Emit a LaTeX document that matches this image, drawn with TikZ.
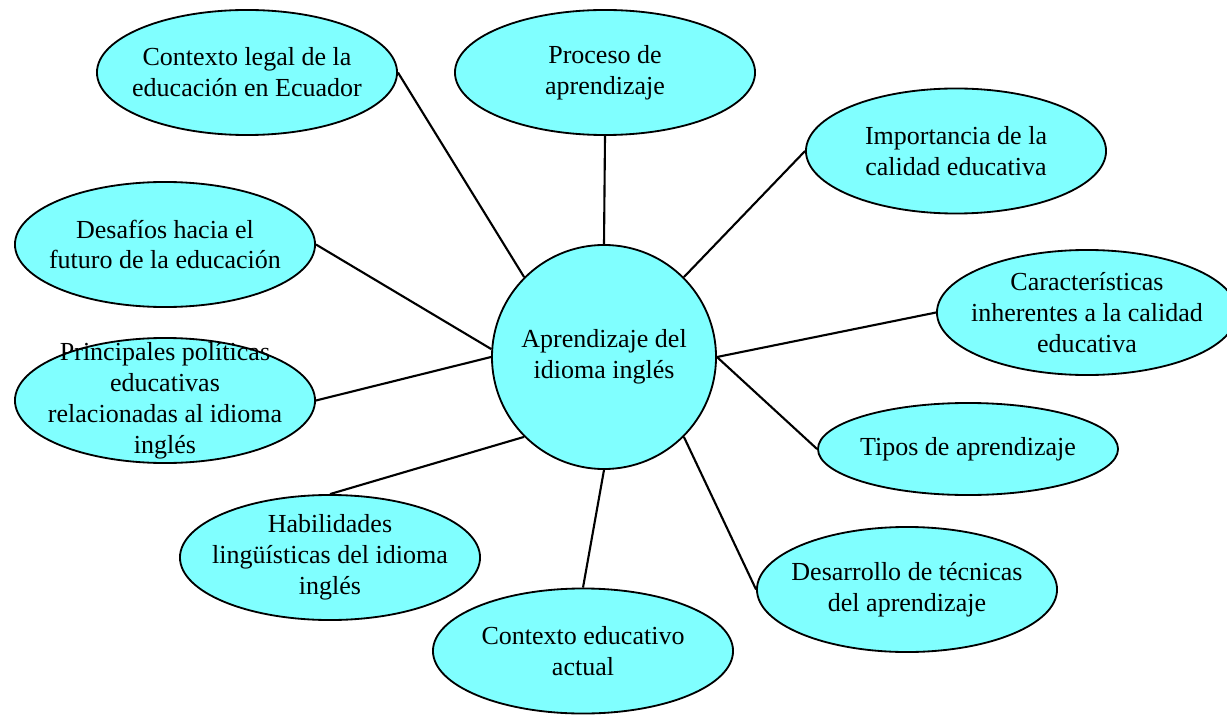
\documentclass[tikz,border=0pt]{standalone}
\usepackage{fontspec}
\setmainfont{Liberation Serif}
\usetikzlibrary{shapes.geometric}
\definecolor{bubble}{RGB}{128,255,255}
\tikzset{
  bub/.style={ellipse, draw=black, fill=bubble, line width=1.3pt, inner sep=0pt,
              minimum width=7.5cm, minimum height=3.125cm},
  hub/.style={circle, draw=black, fill=bubble, line width=1.3pt, inner sep=0pt,
              minimum size=5.6cm},
  lab/.style={align=center, inner sep=0pt, font=\fontsize{18.5}{22}\selectfont},
  link/.style={line width=1.5pt, black}
}
\begin{document}
\begin{tikzpicture}[x=0.025cm, y=-0.025cm]
\useasboundingbox (0,0) rectangle (1227,715);
% hub
\node[hub] (c) at (604,357) {};
% satellites
\node[bub] (e1) at (247,72.5) {};
\node[bub] (e2) at (605,72.5) {};
\node[bub] (e3) at (956,151) {};
\node[bub] (e4) at (165,244.5) {};
\node[bub] (e5) at (1087,312.5) {};
\node[bub] (e6) at (165,400.5) {};
\node[bub, minimum height=2.3cm] (e7) at (968,449) {};
\node[bub] (e8) at (330,557.5) {};
\node[bub] (e9) at (907,589.5) {};
\node[bub] (e10) at (583,651) {};
% labels
\node[lab] (tc) at (c) {Aprendizaje del\\idioma inglés};
\node[lab] (t1) at (e1) {Contexto legal de la\\educación en Ecuador};
\node[lab] (t2) at (e2) {Proceso de\\aprendizaje};
\node[lab] (t3) at (e3) {Importancia de la\\calidad educativa};
\node[lab] (t4) at (e4) {Desafíos hacia el\\futuro de la educación};
\node[lab] (t5) at (e5) {Características\\inherentes a la calidad\\educativa};
\node[lab] (t6) at (e6) {Principales políticas\\educativas\\relacionadas al idioma\\inglés};
\node[lab] (t7) at (e7) {Tipos de aprendizaje};
\node[lab] (t8) at (e8) {Habilidades\\lingüísticas del idioma\\inglés};
\node[lab] (t9) at (e9) {Desarrollo de técnicas\\del aprendizaje};
\node[lab] (t10) at (e10) {Contexto educativo\\actual};
% connectors
\draw[link] (c.north west) -- (e1.east);
\draw[link] (c.north) -- (e2.south);
\draw[link] (c.north east) -- (e3.west);
\draw[link] (c.176) -- (e4.east);
\draw[link] (c.east) -- (e5.west);
\draw[link] (c.west) -- (e6.east);
\draw[link] (c.east) -- (e7.west);
\draw[link] (c.south west) -- (e8.north);
\draw[link] (c.south) -- (e10.north);
\draw[link] (c.south east) -- (e9.west);
\end{tikzpicture}
\end{document}
